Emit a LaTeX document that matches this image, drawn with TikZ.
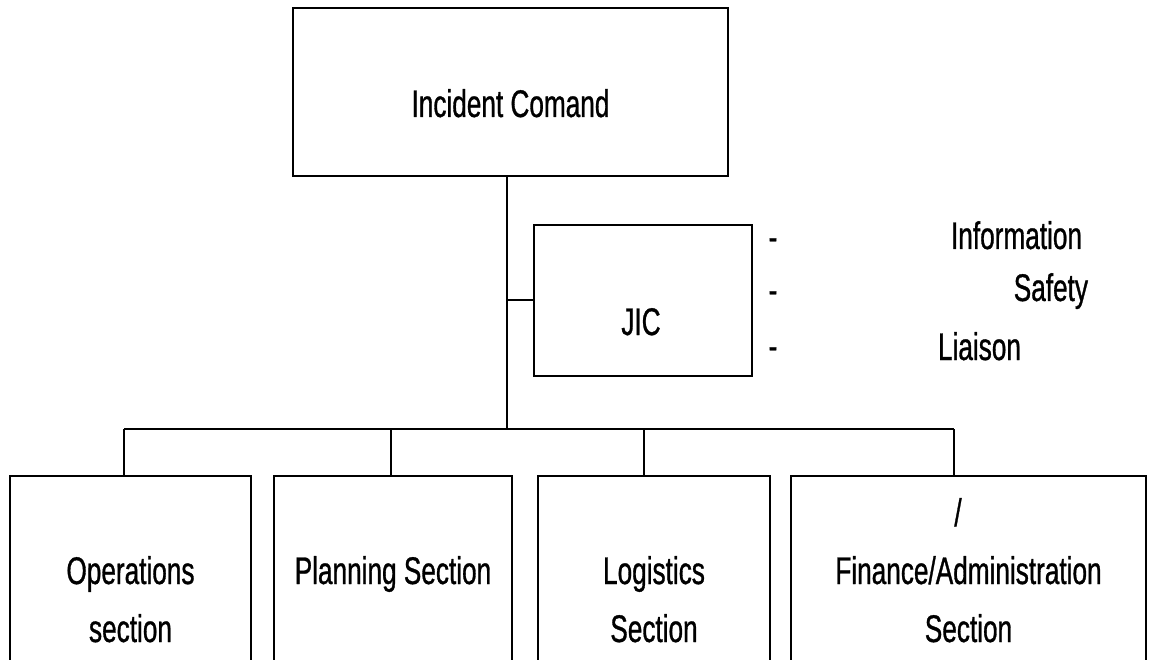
\documentclass[tikz,border=0pt]{standalone}
\usepackage{fontspec}
\setmainfont{Liberation Sans}[FakeStretch=0.68,FakeBold=0.8]
\begin{document}
\begin{tikzpicture}[x=1pt,y=-1pt,
  box/.style={draw=black, line width=2pt, inner sep=0pt, outer sep=0pt},
  lbl/.style={font=\fontsize{38.5}{46}\selectfont, inner sep=0pt, outer sep=0pt},
  conn/.style={draw=black, line width=2pt}]
\useasboundingbox (0,0) rectangle (1151,660);
\fill[white] (0,0) rectangle (1151,660);
\clip (0,0) rectangle (1151,660);
% boxes
\node[box, minimum width=435pt, minimum height=168pt] (ic) at (510.5,92) {};
\node[box, minimum width=218pt, minimum height=151pt] (jic) at (643,300.5) {};
\node[box, minimum width=241pt, minimum height=244pt] (ops) at (130.5,598) {};
\node[box, minimum width=238pt, minimum height=244pt] (plan) at (393,598) {};
\node[box, minimum width=232pt, minimum height=244pt] (logi) at (654,598) {};
\node[box, minimum width=355pt, minimum height=244pt] (fin) at (968.5,598) {};
% connector coordinates
\coordinate (trunk) at (507,429);
\coordinate (d1) at (124,429);
\coordinate (d2) at (391,429);
\coordinate (d3) at (644,429);
\coordinate (d4) at (954,429);
% connectors
\draw[conn] (ic.south -| trunk) -- (trunk);
\draw[conn] (jic.west -| trunk) -- (jic.west);
\draw[conn] (d1) -- (d4);
\draw[conn] (d1) -- (d1 |- ops.north);
\draw[conn] (d2) -- (d2 |- plan.north);
\draw[conn] (d3) -- (d3 |- logi.north);
\draw[conn] (d4) -- (d4 |- fin.north);
% texts
\node[lbl, anchor=base] (ictext) at (510.5,117) {Incident Comand};
\node[lbl, anchor=base] (jictext) at (641,335) {JIC};
\node[lbl, anchor=base] (dash1) at (773,250) {-};
\node[lbl, anchor=base] (dash2) at (773,303) {-};
\node[lbl, anchor=base] (dash3) at (773,359) {-};
\node[lbl, anchor=base east] (info) at (1082,249) {Information};
\node[lbl, anchor=base east] (safety) at (1088,301) {Safety};
\node[lbl, anchor=base west] (liaison) at (938,360) {Liaison};
\node[lbl, anchor=base] (ops1) at (130.5,584) {Operations};
\node[lbl, anchor=base] (ops2) at (130.5,642) {section};
\node[lbl, anchor=base] (plan1) at (393,584) {Planning Section};
\node[lbl, anchor=base] (logi1) at (654,584) {Logistics};
\node[lbl, anchor=base] (logi2) at (654,642) {Section};
\node[lbl, anchor=base] (fin0) at (958,526) {/};
\node[lbl, anchor=base] (fin1) at (968.5,584) {Finance/Administration};
\node[lbl, anchor=base] (fin2) at (968.5,642) {Section};
\end{tikzpicture}
\end{document}
